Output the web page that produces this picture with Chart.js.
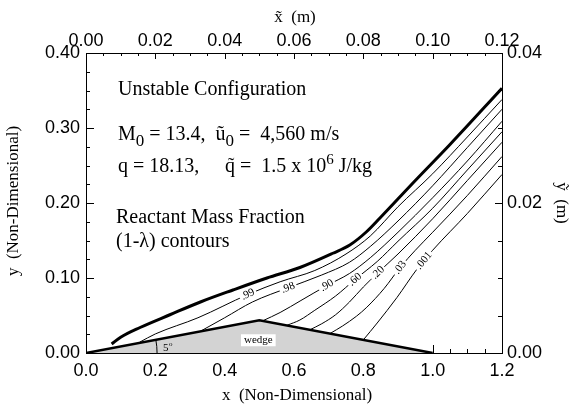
<!DOCTYPE html>
<html>
<head>
<meta charset="utf-8">
<script src="https://cdn.jsdelivr.net/npm/chart.js@4.4.0/dist/chart.umd.min.js"></script>
<style>
  html, body { margin: 0; padding: 0; background: #fff; }
</style>
</head>
<body>
<canvas id="chart" width="578" height="407"></canvas>
<script>
// values, non-dimensional x / y
var wedgeX = [0.0, 0.5, 1.0];
var wedgeY = [0.0, 0.0437, 0.0];

var shockX = [0.074, 0.10, 0.156, 0.242, 0.33, 0.424, 0.522, 0.617, 0.712, 0.761, 0.81, 0.848, 0.95, 1.05, 1.2];
var shockY = [0.012, 0.021, 0.034, 0.051, 0.068, 0.084, 0.100, 0.114, 0.133, 0.144, 0.162, 0.180, 0.230, 0.278, 0.353];

var contourLevels = ['.99', '.98', '.90', '.60', '.20', '.03', '.001'];
var contourX = [
  [0.155, 0.2, 0.323, 0.467, 0.56, 0.66, 0.75, 0.82, 0.9, 1.0, 1.1, 1.2],
  [0.33, 0.40, 0.48, 0.583, 0.68, 0.76, 0.82, 0.9, 1.0, 1.1, 1.2],
  [0.51, 0.56, 0.62, 0.695, 0.76, 0.82, 0.9, 1.0, 1.1, 1.2],
  [0.58, 0.617, 0.66, 0.72, 0.776, 0.84, 0.9, 1.0, 1.1, 1.2],
  [0.646, 0.68, 0.72, 0.76, 0.80, 0.842, 0.9, 1.0, 1.1, 1.2],
  [0.704, 0.74, 0.78, 0.81, 0.86, 0.906, 0.95, 1.0, 1.1, 1.2],
  [0.80, 0.84, 0.897, 0.955, 1.0, 1.1, 1.2]
];
var contourY = [
  [0.0145, 0.0254, 0.047, 0.078, 0.095, 0.110, 0.132, 0.156, 0.195, 0.239, 0.288, 0.338],
  [0.029, 0.047, 0.068, 0.087, 0.104, 0.121, 0.142, 0.176, 0.223, 0.274, 0.325],
  [0.043, 0.054, 0.070, 0.090, 0.106, 0.127, 0.161, 0.207, 0.256, 0.309],
  [0.037, 0.044, 0.057, 0.076, 0.098, 0.122, 0.149, 0.193, 0.244, 0.295],
  [0.031, 0.039, 0.051, 0.068, 0.088, 0.107, 0.132, 0.179, 0.230, 0.281],
  [0.026, 0.036, 0.049, 0.061, 0.086, 0.114, 0.137, 0.161, 0.210, 0.262],
  [0.0175, 0.040, 0.074, 0.112, 0.137, 0.186, 0.238]
];
var labelX = [0.467, 0.583, 0.695, 0.776, 0.842, 0.906, 0.975];

var xTickValues = [0, 0.2, 0.4, 0.6, 0.8, 1.0, 1.2];
var xTickLabels = ['0.0', '0.2', '0.4', '0.6', '0.8', '1.0', '1.2'];
var yTickValues = [0, 0.1, 0.2, 0.3, 0.4];
var yTickLabels = ['0.00', '0.10', '0.20', '0.30', '0.40'];
var x2TickValues = [0, 0.02, 0.04, 0.06, 0.08, 0.10, 0.12];
var x2TickLabels = ['0.00', '0.02', '0.04', '0.06', '0.08', '0.10', '0.12'];
var y2TickValues = [0, 0.02, 0.04];
var y2TickLabels = ['0.00', '0.02', '0.04'];

var serif = '"Liberation Serif", "DejaVu Serif", serif';
var sans = '"Liberation Sans", Arial, sans-serif';

function pts(xs, ys) {
  return xs.map(function (x, i) { return { x: x, y: ys[i] }; });
}

function fixedTicks(values, labels) {
  return {
    afterBuildTicks: function (scale) {
      scale.ticks = values.map(function (v) { return { value: v }; });
    },
    callback: function (v, i) { return labels[i]; }
  };
}

var datasets = [{
  data: pts(wedgeX, wedgeY),
  showLine: true,
  borderColor: '#000',
  borderWidth: 2.5,
  backgroundColor: '#d3d3d3',
  fill: 'origin',
  pointRadius: 0,
  order: 0
}, {
  data: pts(shockX, shockY),
  showLine: true,
  borderColor: '#000',
  borderWidth: 3,
  cubicInterpolationMode: 'monotone',
  pointRadius: 0,
  order: 1
}];
contourLevels.forEach(function (lvl, i) {
  datasets.push({
    label: lvl,
    data: pts(contourX[i], contourY[i]),
    showLine: true,
    borderColor: '#000',
    borderWidth: 1,
    cubicInterpolationMode: 'monotone',
    pointRadius: 0,
    order: 1
  });
});

function tickMarks(ctx, scale, step, majorEvery, majLen, minLen, side, area) {
  var n = Math.round((scale.max - scale.min) / step);
  ctx.save();
  ctx.strokeStyle = '#000';
  ctx.lineWidth = 1;
  ctx.beginPath();
  for (var k = 0; k <= n; k++) {
    var v = scale.min + k * step;
    var len = (k % majorEvery === 0) ? majLen : minLen;
    var p = Math.round(scale.getPixelForValue(v)) + 0.5;
    if (side === 'bottom') { ctx.moveTo(p, area.bottom); ctx.lineTo(p, area.bottom - len); }
    if (side === 'top') { ctx.moveTo(p, area.top); ctx.lineTo(p, area.top + len); }
    if (side === 'left') { ctx.moveTo(area.left, p); ctx.lineTo(area.left + len, p); }
    if (side === 'right') { ctx.moveTo(area.right, p); ctx.lineTo(area.right - len, p); }
  }
  ctx.stroke();
  ctx.restore();
}

// draws pieces of text; a piece with a number in [3] starts at that x
function drawRich(ctx, x, y, parts) {
  parts.forEach(function (p) {
    if (p.length > 3) x = p[3];
    ctx.font = p[1] + 'px ' + serif;
    ctx.fillText(p[0], x, y + p[2]);
    x += ctx.measureText(p[0]).width;
  });
}

var decor = {
  id: 'decor',
  beforeDatasetsDraw: function (chart) {
    var ctx = chart.ctx, a = chart.chartArea, s = chart.scales;
    tickMarks(ctx, s.x, 0.05, 4, 8, 4, 'bottom', a);
    tickMarks(ctx, s.y, 0.025, 4, 8, 4, 'left', a);
    tickMarks(ctx, s.x2, 0.005, 4, 6, 3, 'top', a);
    tickMarks(ctx, s.y2, 0.005, 4, 7, 4, 'right', a);
  },
  afterDatasetsDraw: function (chart) {
    var ctx = chart.ctx, a = chart.chartArea, sx = chart.scales.x, sy = chart.scales.y;
    ctx.save();
    // frame
    ctx.strokeStyle = '#000';
    ctx.lineWidth = 1;
    ctx.strokeRect(Math.round(a.left) + 0.5, Math.round(a.top) + 0.5,
      Math.round(a.right - a.left), Math.round(a.bottom - a.top));

    // contour labels
    ctx.font = '11px ' + serif;
    ctx.textAlign = 'center';
    ctx.textBaseline = 'middle';
    contourLevels.forEach(function (lvl, i) {
      var xs = contourX[i], ys = contourY[i], lx = labelX[i];
      for (var k = 0; k < xs.length - 1; k++) {
        if (lx >= xs[k] && lx <= xs[k + 1]) {
          var t = (lx - xs[k]) / (xs[k + 1] - xs[k]);
          var ly = ys[k] + t * (ys[k + 1] - ys[k]);
          var px = sx.getPixelForValue(lx), py = sy.getPixelForValue(ly);
          var ang = Math.atan2(sy.getPixelForValue(ys[k + 1]) - sy.getPixelForValue(ys[k]),
            sx.getPixelForValue(xs[k + 1]) - sx.getPixelForValue(xs[k]));
          var w = ctx.measureText(lvl).width;
          ctx.save();
          ctx.translate(px, py);
          ctx.rotate(ang);
          ctx.fillStyle = '#fff';
          ctx.fillRect(-w / 2 - 2, -4, w + 4, 8);
          ctx.fillStyle = '#000';
          ctx.fillText(lvl, 0, 0);
          ctx.restore();
          break;
        }
      }
    });

    // wedge label
    var wx = sx.getPixelForValue(0.497), wy = sy.getPixelForValue(0.017);
    ctx.font = '11px ' + serif;
    var ww = ctx.measureText('wedge').width;
    ctx.fillStyle = '#fff';
    ctx.fillRect(wx - ww / 2 - 3, wy - 6, ww + 6, 12);
    ctx.fillStyle = '#000';
    ctx.fillText('wedge', wx, wy);

    // 5 degree arc
    var ox = sx.getPixelForValue(0), oy = sy.getPixelForValue(0);
    var r = sx.getPixelForValue(0.205) - ox;
    var wedgeAng = Math.atan2(oy - sy.getPixelForValue(wedgeY[1]), sx.getPixelForValue(wedgeX[1]) - ox);
    ctx.beginPath();
    ctx.arc(ox, oy, r, -wedgeAng, 0);
    ctx.lineWidth = 1;
    ctx.stroke();
    ctx.textAlign = 'left';
    ctx.textBaseline = 'alphabetic';
    ctx.font = '11px ' + serif;
    ctx.fillText('5', ox + r + 6, oy - 2);
    ctx.font = '7px ' + serif;
    ctx.fillText('o', ox + r + 12, oy - 7);

    // annotations
    ctx.fillStyle = '#000';
    drawRich(ctx, 118, 95, [['Unstable Configuration', 20, 0]]);
    drawRich(ctx, 118, 140, [['M', 20, 0], ['0', 17, 6], [' = 13.4,  ', 20, 0], ['\u0169', 20, 0], ['0', 17, 6], [' =  4,560 m/s', 20, 0]]);
    drawRich(ctx, 118, 172, [['q = 18.13,', 20, 0], ['q\u0303', 20, 0, 225], [' =  1.5 x 10', 20, 0], ['6', 15, -8], [' J/kg', 20, 0]]);
    drawRich(ctx, 116, 223, [['Reactant Mass Fraction', 20, 0]]);
    drawRich(ctx, 116, 247, [['(1-\u03bb) contours', 20, 0]]);

    // axis titles
    ctx.font = '17px ' + serif;
    ctx.textAlign = 'center';
    ctx.textBaseline = 'middle';
    ctx.fillText('x  (Non-Dimensional)', 297, 396);
    ctx.fillText('x\u0303  (m)', 295, 18);
    ctx.save();
    ctx.translate(14, 201);
    ctx.rotate(-Math.PI / 2);
    ctx.fillText('y  (Non-Dimensional)', 0, 0);
    ctx.restore();
    ctx.save();
    ctx.translate(561, 203);
    ctx.rotate(Math.PI / 2);
    ctx.fillText('\u1ef9  (m)', 0, 0);
    ctx.restore();
    ctx.restore();
  }
};

function axis(pos, min, max, ft, fit, pad) {
  return {
    type: 'linear',
    position: pos,
    min: min,
    max: max,
    grid: { display: false, drawTicks: false, tickLength: 0 },
    border: { display: false },
    afterBuildTicks: ft.afterBuildTicks,
    afterFit: fit,
    ticks: {
      color: '#000',
      font: { family: sans, size: 18 },
      callback: ft.callback,
      padding: pad,
      maxRotation: 0,
      autoSkip: false
    }
  };
}

new Chart(document.getElementById('chart'), {
  type: 'scatter',
  data: { datasets: datasets },
  options: {
    responsive: false,
    animation: false,
    devicePixelRatio: 1,
    layout: { padding: 0 },
    plugins: { legend: { display: false }, tooltip: { enabled: false } },
    scales: {
      x: axis('bottom', 0, 1.2, fixedTicks(xTickValues, xTickLabels), function (s) { s.height = 54; }, 7),
      x2: axis('top', 0, 0.12, fixedTicks(x2TickValues, x2TickLabels), function (s) { s.height = 53; }, 1),
      y: axis('left', 0, 0.4, fixedTicks(yTickValues, yTickLabels), function (s) { s.width = 86; }, 6),
      y2: axis('right', 0, 0.04, fixedTicks(y2TickValues, y2TickLabels), function (s) { s.width = 76; }, 5)
    }
  },
  plugins: [decor]
});
</script>
</body>
</html>
